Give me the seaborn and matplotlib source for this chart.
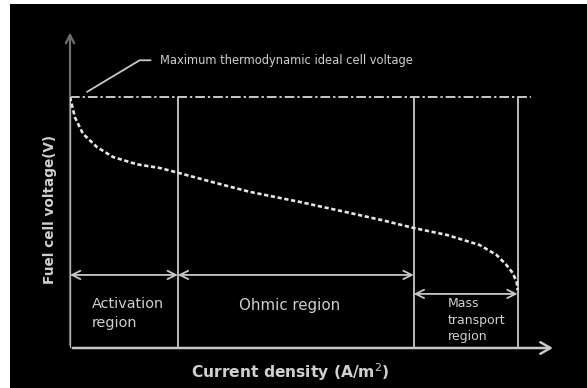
import matplotlib
matplotlib.use("Agg")
import matplotlib.pyplot as plt
import seaborn as sns
import pandas as pd

# Polarization curve of a fuel cell (normalized current density, cell voltage in V)
current_density = [0.0, 0.011, 0.029, 0.060, 0.096, 0.150, 0.201, 0.243, 0.320, 0.402,
                   0.513, 0.625, 0.700, 0.768, 0.842, 0.915, 0.953, 0.975, 0.989, 0.998, 1.0]
cell_voltage = [1.23, 1.13, 1.05, 0.985, 0.936, 0.900, 0.882, 0.858, 0.812, 0.765,
                0.716, 0.662, 0.625, 0.588, 0.554, 0.505, 0.456, 0.407, 0.368, 0.324, 0.284]

E_THERMO = 1.23                      # maximum thermodynamic cell voltage
region_edges = [0.241, 0.768, 1.0]   # ends of activation / ohmic / mass transport regions
region_names = ["Activation\nregion", "Ohmic region", "Mass\ntransport\nregion"]

annotation_text = "Maximum thermodynamic ideal cell voltage"
x_label = "Current density (A/m$^2$)"
y_label = "Fuel cell voltage(V)"

sns.set_theme(style="dark")
plt.rcParams["font.family"] = ["DejaVu Sans"]

LINE = "#c8c8c8"
TEXT = "#d0d0d0"

fig = plt.figure(figsize=(5.87, 3.88), dpi=100, facecolor="white")
# black canvas with a thin white margin on the top and left
fig.patches.append(plt.Rectangle((10 / 587, 0), 577 / 587, 384 / 388,
                                 transform=fig.transFigure, facecolor="black",
                                 edgecolor="none", zorder=-10))

ax = fig.add_axes([70 / 587, 40 / 388, 461 / 587, 251 / 388])
ax.set_facecolor("none")
ax.patch.set_alpha(0)
ax.set_xlim(0, 1.03)
ax.set_ylim(0, E_THERMO)
for s in ax.spines.values():
    s.set_visible(False)
ax.set_xticks([])
ax.set_yticks([])
ax.grid(False)

df = pd.DataFrame({"current": current_density, "voltage": cell_voltage})
sns.lineplot(data=df, x="current", y="voltage", ax=ax, color="#e6e6e6",
             linewidth=1.9, linestyle=(0, (1.6, 1.0)), sort=False, zorder=4)
ax.set_xlabel("")
ax.set_ylabel("")

# thermodynamic voltage line
ax.plot([0, 1.03], [E_THERMO, E_THERMO], color=LINE, lw=1.4,
        linestyle=(0, (5, 1.5, 1.2, 1.5)), clip_on=False, zorder=3)

# region boundaries
ax.vlines(region_edges, 0, E_THERMO, colors="#bdbdbd", lw=1.4, zorder=3)

# axes drawn as arrows
ax.annotate("", xy=(1.085, 0), xytext=(0, 0), annotation_clip=False,
            arrowprops=dict(arrowstyle="->,head_length=0.6,head_width=0.35",
                            color=LINE, lw=1.8))
ax.annotate("", xy=(0, 1.56), xytext=(0, 0), annotation_clip=False,
            arrowprops=dict(arrowstyle="->,head_length=0.5,head_width=0.25",
                            color="#6e6e6e", lw=1.6))
ax.vlines([0], 0, E_THERMO, colors="#b5b5b5", lw=1.6, zorder=3)

# region spans
arrow_kw = dict(arrowstyle="<->,head_length=0.5,head_width=0.25", color=LINE,
                lw=1.3, shrinkA=0, shrinkB=0)
ax.annotate("", xy=(region_edges[0], 0.358), xytext=(0, 0.358), arrowprops=arrow_kw)
ax.annotate("", xy=(region_edges[1], 0.358), xytext=(region_edges[0], 0.358),
            arrowprops=arrow_kw)
ax.annotate("", xy=(region_edges[2], 0.265), xytext=(region_edges[1], 0.265),
            arrowprops=arrow_kw)

ax.text(0.049, 0.17, region_names[0], color=TEXT, fontsize=10.4, ha="left",
        va="center", linespacing=1.5)
ax.text(0.491, 0.206, region_names[1], color=TEXT, fontsize=10.8, ha="center",
        va="center")
ax.text(0.844, 0.137, region_names[2], color=TEXT, fontsize=9, ha="left",
        va="center", linespacing=1.35)

# leader to the open-circuit point
ax.annotate(annotation_text, xy=(0.038, 1.255), xytext=(0.2, 1.41),
            color=TEXT, fontsize=8.3, ha="left", va="center", annotation_clip=False,
            arrowprops=dict(arrowstyle="-", color=LINE, lw=1.3, relpos=(0, 0.5),
                            shrinkA=4, shrinkB=0,
                            connectionstyle="angle,angleA=0,angleB=31,rad=0"))

# axis titles
ax.text(0.477, -0.096, x_label, transform=ax.transAxes, color=TEXT,
        fontsize=11.2, fontweight="bold", ha="center", va="center")
ax.text(-0.043, 0.55, y_label, transform=ax.transAxes, color=TEXT,
        fontsize=9.8, fontweight="bold", ha="center", va="center", rotation=90)

fig.savefig("out.png", dpi=100, facecolor=fig.get_facecolor())
